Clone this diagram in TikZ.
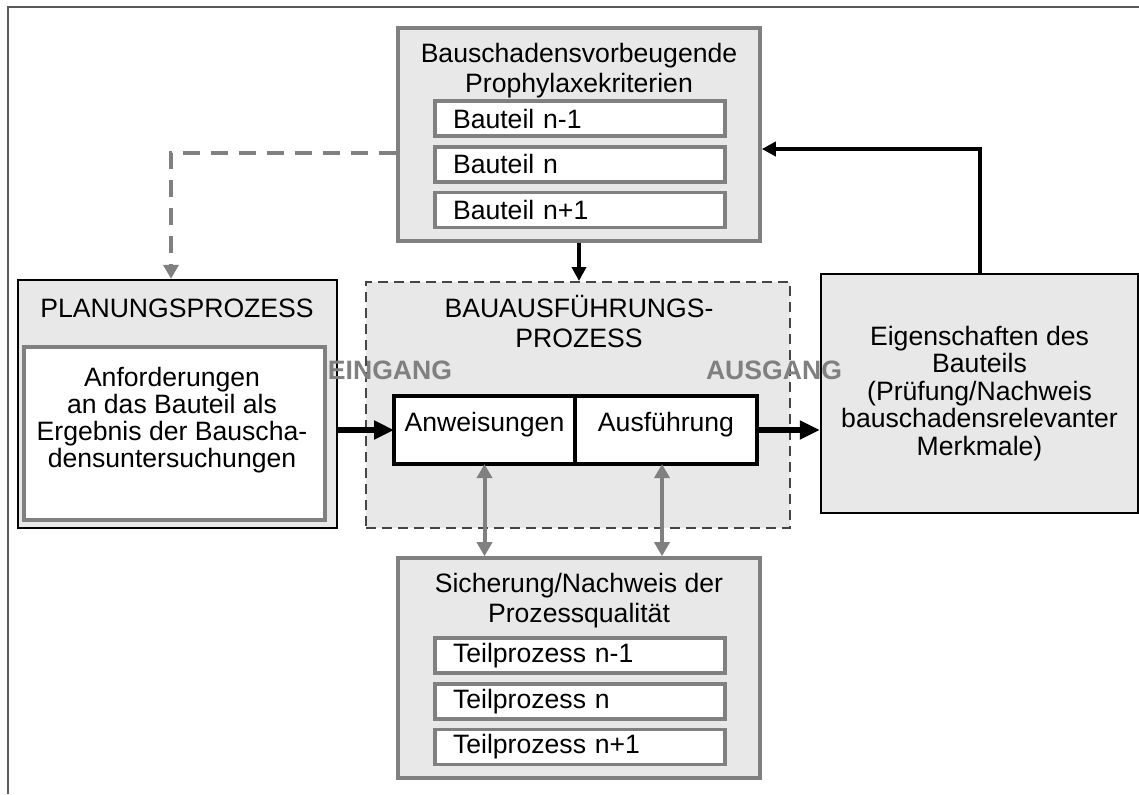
\documentclass[tikz,border=0pt]{standalone}
\usepackage{fontspec}
\setmainfont{Liberation Sans}
\usepackage{tikz}
\usetikzlibrary{positioning,calc,arrows.meta}
\definecolor{boxfill}{HTML}{E8E8E8}
\definecolor{boxgray}{HTML}{808080}
\definecolor{dashgray}{HTML}{454545}
\definecolor{framegray}{HTML}{5A5A5A}
\tikzset{
    graybox/.style = {draw=boxgray, line width=1.8pt, fill=boxfill, rectangle, inner sep=0pt},
    blackbox/.style = {draw=black, line width=1.2pt, fill=boxfill, rectangle, inner sep=0pt},
    dashbox/.style = {draw=dashgray, line width=1pt, dash pattern=on 5pt off 3pt, fill=boxfill, rectangle, inner sep=0pt},
    rowbox/.style = {draw=boxgray, line width=1.7pt, fill=white, rectangle, outer sep=0pt, minimum height=17.5pt, text width=127pt, inner xsep=9pt, inner ysep=0pt, align=left},
    stepbox/.style = {draw=black, line width=1.7pt, fill=white, rectangle, outer sep=0pt, minimum height=34pt, inner sep=0pt, text height=9.5pt, text depth=8pt},
    headtext/.style = {align=center, inner sep=0pt},
    gatelabel/.style = {text=boxgray, font=\fontsize{13.3}{15}\selectfont\bfseries, inner sep=0pt},
    thinarrow/.style = {draw=black, line width=2pt, -{Triangle[width=7pt,length=7pt]}},
    bigarrow/.style = {draw=black, line width=3pt, -{Triangle[width=9pt,length=10pt]}},
    grayarrow/.style = {draw=boxgray, line width=2pt, {Triangle[width=7.5pt,length=7pt]}-{Triangle[width=7.5pt,length=7pt]}},
    dasharrow/.style = {draw=boxgray, line width=2pt, dash pattern=on 8.5pt off 5.5pt, -{Triangle[width=7.5pt,length=7pt]}},
}

\begin{document}
\begin{tikzpicture}[
    x=0.5pt, y=-0.5pt,
    every node/.style={font=\fontsize{13.3}{15}\selectfont}
]

\useasboundingbox (0,0) rectangle (1139,794);

% Frame (cut off at right and bottom)
\draw[framegray, line width=1.2pt] (8,794) -- (8,7) -- (1139,7);

% Prophylaxis criteria (top)
\node[graybox, minimum width=181pt, minimum height=106.5pt] (prophylaxe) at (579,134.5) {};
\node[headtext] (prophylaxetitle) at (579,71) {Bauschadensvorbeugende\\Prophylaxekriterien};
\node[rowbox] (bauteilA) at (580,118.5) {Bauteil n-1};
\node[rowbox, below=5.4pt of bauteilA] (bauteilB) {Bauteil n};
\node[rowbox, below=5.4pt of bauteilB] (bauteilC) {Bauteil n+1};

% Planning process (left)
\node[blackbox, minimum width=159.5pt, minimum height=124pt] (planung) at (177.5,404) {};
\node[headtext] (planungtitle) at (177,308) {PLANUNGSPROZESS};
\node[graybox, fill=white, line width=1.6pt, minimum width=150.5pt, minimum height=86.5pt] (anforderung) at (174.5,433.5) {};
\node[headtext, font=\fontsize{13.3}{13.5}\selectfont] (anforderungtext) at (172,420)
    {Anforderungen\\an das Bauteil als\\Ergebnis der Bauscha-\\densuntersuchungen};

% Construction process (middle, dashed)
\node[dashbox, minimum width=212pt, minimum height=123pt] (bauausfuehrung) at (578,405) {};
\node[headtext] (bauausfuehrungtitle) at (579,321) {BAUAUSFÜHRUNGS-\\PROZESS};
\node[stepbox, minimum width=90.5pt] (anweisungen) at (484.5,430) {Anweisungen};
\node[stepbox, minimum width=91pt, right=0pt of anweisungen] (ausfuehrung) {Ausführung};

% Properties of the component (right)
\node[blackbox, minimum width=158.5pt, minimum height=119.5pt, align=center,
      font=\fontsize{13.3}{13.75}\selectfont] (eigenschaften) at (979.5,393.5)
    {Eigenschaften des\\Bauteils\\(Prüfung/Nachweis\\bauschadensrelevanter\\Merkmale)};

% Process quality (bottom)
\node[graybox, minimum width=181pt, minimum height=110pt] (sicherung) at (579,668) {};
\node[headtext] (sicherungtitle) at (579,601) {Sicherung/Nachweis der\\Prozessqualität};
\node[rowbox] (teilA) at (580,655.5) {Teilprozess n-1};
\node[rowbox, below=5.4pt of teilA] (teilB) {Teilprozess n};
\node[rowbox, below=5.4pt of teilB] (teilC) {Teilprozess n+1};

% Input / output labels
\node[gatelabel] (eingang) at (390,370) {EINGANG};
\node[gatelabel] (ausgang) at (774,370) {AUSGANG};

% Main flow
\draw[bigarrow] (planung.east |- anweisungen.west) -- (anweisungen.west);
\draw[bigarrow] (ausfuehrung.east) -- (ausfuehrung.east -| eigenschaften.west);
\draw[thinarrow] (prophylaxe.south) -- (prophylaxe.south |- bauausfuehrung.north);

% Feedback and links
\coordinate (rueckknick) at (979.5,149);
\draw[thinarrow] (eigenschaften.north) -- (rueckknick) -- (rueckknick -| prophylaxe.east);

\coordinate (dashknick) at (171,153);
\draw[dasharrow] (dashknick -| prophylaxe.west) -- (dashknick) -- (dashknick |- planung.north);

\draw[grayarrow] (anweisungen.south) -- (anweisungen.south |- sicherung.north);
\draw[grayarrow] ($(ausfuehrung.south)+(-4,0)$) -- ($(ausfuehrung.south |- sicherung.north)+(-4,0)$);

\end{tikzpicture}
\end{document}
